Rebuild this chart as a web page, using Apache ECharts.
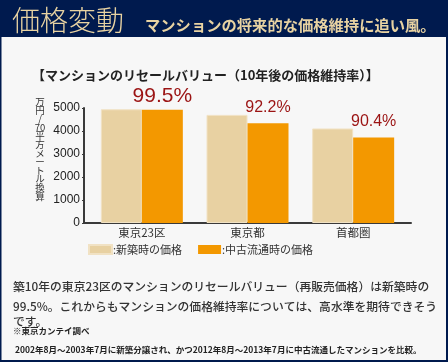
<!DOCTYPE html>
<html><head><meta charset="utf-8">
<script src="https://cdn.jsdelivr.net/npm/echarts@6/dist/echarts.min.js"></script>
<style>html,body{margin:0;padding:0;background:#f7f7f7}#c{width:448px;height:362px}</style>
</head><body><div id="c"></div>
<script>
const categories = ['東京23区', '東京都', '首都圏'];
const newPrice = [4945, 4700, 4110];
const usedPrice = [4920, 4333, 3715];
const retention = ['99.5%', '92.2%', '90.4%'];
const seriesNames = ['新築時の価格', '中古流通時の価格'];
const yTicks = [0, 1000, 2000, 3000, 4000, 5000];

const JP = '"Noto Sans CJK JP", sans-serif';
const LAT = '"Liberation Sans", Arial, sans-serif';
const navy = '#001a4e';
const gold = '#e8d3a2';

const chart = echarts.init(document.getElementById('c'), null, {renderer: 'canvas'});
chart.setOption({
  backgroundColor: '#f7f7f7',
  animation: false,
  grid: [
    {left: 89, right: 42, top: 108, bottom: 139, containLabel: false, outerBoundsMode: 'none'},
    {left: 84, right: 37, top: 108, bottom: 139, containLabel: false, outerBoundsMode: 'none'}
  ],
  legend: {
    left: 83, top: 239, itemWidth: 23, itemHeight: 9, itemGap: 16, icon: 'rect',
    formatter: n => ':' + n,
    textStyle: {fontFamily: JP, fontSize: 11, color: '#333', padding: [0, 0, 0, -4]},
    data: seriesNames
  },
  xAxis: [
    {type: 'category', data: categories, gridIndex: 0,
     axisLine: {show: false}, axisTick: {show: false},
     axisLabel: {fontFamily: JP, fontSize: 11.5, color: '#333', margin: 4}},
    {type: 'category', data: [''], gridIndex: 1,
     axisLine: {show: true, lineStyle: {color: '#3a3a3a', width: 2}},
     axisTick: {show: false}, axisLabel: {show: false}}
  ],
  yAxis: [
    {type: 'value', gridIndex: 0, min: yTicks[0], max: yTicks[yTicks.length - 1], interval: 1000,
     offset: 5,
     axisLine: {show: true, lineStyle: {color: '#3a3a3a', width: 2}},
     axisTick: {show: true, length: 2, lineStyle: {color: '#3a3a3a', width: 1}},
     splitLine: {show: false},
     axisLabel: {fontFamily: LAT, fontSize: 12, color: '#222', margin: 4, formatter: v => String(v)}},
    {type: 'value', gridIndex: 1, show: false}
  ],
  series: [
    {name: seriesNames[0], type: 'bar', data: newPrice, barWidth: 41, barGap: '0%',
     itemStyle: {color: '#e8d1a2', borderColor: '#f1e2c4', borderWidth: 1}},
    {name: seriesNames[1], type: 'bar', barWidth: 41, barGap: '0%',
     data: usedPrice.map((v, i) => ({value: v, label: i === 0 ? {fontSize: 21, distance: 3} : {fontSize: 16, distance: 8}})),
     itemStyle: {color: '#f39800'},
     label: {show: true, position: 'top',
       formatter: p => retention[p.dataIndex],
       fontFamily: LAT, color: '#9b1313'}}
  ],
  graphic: [
    {type: 'rect', shape: {x: 0, y: 0, width: 448, height: 37}, style: {fill: navy}},
    {type: 'rect', shape: {x: 0, y: 0, width: 1.5, height: 362}, style: {fill: navy}},
    {type: 'rect', shape: {x: 446, y: 0, width: 2, height: 362}, style: {fill: navy}},
    {type: 'rect', shape: {x: 0, y: 360, width: 448, height: 2}, style: {fill: navy}},
    {type: 'text', x: 12, y: 20, style: {text: '価格変動', font: '300 28px ' + JP, fill: gold, textVerticalAlign: 'middle'}},
    {type: 'text', x: 145, y: 25, style: {text: 'マンションの将来的な価格維持に追い風。', font: 'bold 15.3px ' + JP, fill: gold, textVerticalAlign: 'middle'}},
    {type: 'text', x: 32, y: 75, style: {text: '【マンションのリセールバリュー（10年後の価格維持率）】', font: 'bold 13px ' + JP, fill: '#222', textVerticalAlign: 'middle'}},
    {type: 'text', x: 40, y: 97, style: {text: '万\n円\n/\n70\n平\n方\nメ\nー\nト\nル\n換\n算', font: '9.5px ' + JP, lineHeight: 8.6, fill: '#333', textAlign: 'center', textVerticalAlign: 'top'}},
    {type: 'text', x: 13, y: 287, style: {text: '築10年の東京23区のマンションのリセールバリュー（再販売価格）は新築時の', font: '500 11.8px ' + JP, fill: '#333', textVerticalAlign: 'middle'}},
    {type: 'text', x: 13, y: 307, style: {text: '99.5%。これからもマンションの価格維持率については、高水準を期待できそう', font: '500 11.8px ' + JP, fill: '#333', textVerticalAlign: 'middle'}},
    {type: 'text', x: 13, y: 322, style: {text: 'です。', font: '500 11.8px ' + JP, fill: '#333', textVerticalAlign: 'middle'}},
    {type: 'text', x: 13, y: 331, style: {text: '※東京カンテイ調べ', font: 'bold 8.5px ' + JP, fill: '#222', textVerticalAlign: 'middle'}},
    {type: 'text', x: 15, y: 350, style: {text: '2002年8月～2003年7月に新築分譲され、かつ2012年8月～2013年7月に中古流通したマンションを比較。', font: 'bold 8.5px ' + JP, fill: '#222', textVerticalAlign: 'middle'}}
  ]
});
</script></body></html>
